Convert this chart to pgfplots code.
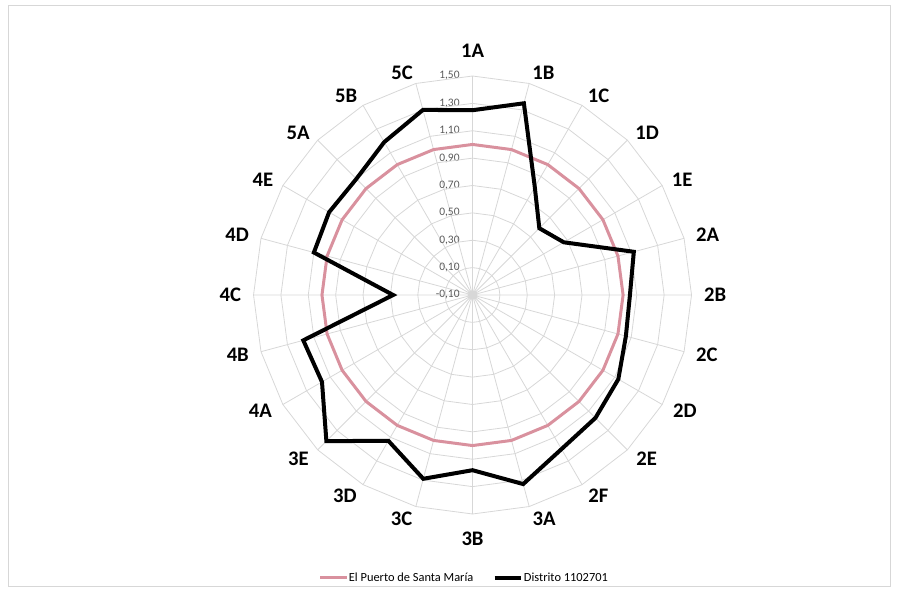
\documentclass[border=0pt]{standalone}
\usepackage{pgfplots}
\pgfplotsset{compat=1.18}
\usepackage{pgfplotstable}
\usepgfplotslibrary{polar}
\usepackage{fontspec}
\setmainfont{Carlito}

\definecolor{puerto}{RGB}{217,145,158}
\definecolor{gridc}{RGB}{215,215,215}
\definecolor{labc}{RGB}{89,89,89}
\tikzset{cat/.style={font=\bfseries\fontsize{15.5}{15.5}\selectfont, inner sep=0pt}}

% angle = 450 - 15k: 1A on top, categories run clockwise
\pgfplotstableread{
cat ang puerto distrito
1A 450 1.00 1.25
1B 435 1.00 1.35
1C 420 1.00 0.81
1D 405 1.00 0.59
1E 390 1.00 0.67
2A 375 1.00 1.12
2B 360 1.00 1.05
2C 345 1.00 1.06
2D 330 1.00 1.13
2E 315 1.00 1.17
2F 300 1.00 1.20
3A 285 1.00 1.33
3B 270 1.00 1.18
3C 255 1.00 1.29
3D 240 1.00 1.13
3E 225 1.00 1.41
4A 210 1.00 1.17
4B 195 1.00 1.18
4C 180 1.00 0.48
4D 165 1.00 1.10
4E 150 1.00 1.11
5A 135 1.00 1.10
5B 120 1.00 1.19
5C 105 1.00 1.30
1A 90 1.00 1.25
}\datatab

\begin{document}
\begin{tikzpicture}
\useasboundingbox (0pt,0pt) rectangle (678pt,444.75pt);
\draw[gridc, line width=0.6pt] (6pt,5.25pt) rectangle (667.5pt,441pt);
\begin{polaraxis}[
    at={(354.4pt,223.5pt)}, anchor=center,
    scale only axis,
    width=328.5pt, height=328.5pt,
    clip=false,
    xmin=90, xmax=450,
    ymin=0, ymax=1.6,
    xtick={90,105,...,435},
    xticklabels={},
    ytick={0,0.2,0.4,0.6,0.8,1.0,1.2,1.4,1.6},
    yticklabels={{-0,10},{0,10},{0,30},{0,50},{0,70},{0,90},{1,10},{1,30},{1,50}},
    axis line style={draw=none},
    major tick length=0pt,
    xmajorgrids, ymajorgrids=false,
    grid style={gridc, line width=0.6pt},
    yticklabel style={font=\fontsize{8.6}{8.6}\selectfont, text=labc, anchor=east, inner sep=1pt, xshift=-8.5pt},
    legend columns=2,
    legend style={at={(0.4795,-0.146)}, anchor=center, draw=none, fill=none,
      font=\fontsize{9.3}{9.3}\selectfont,
      nodes={inner xsep=0.5pt},
      /tikz/every even column/.append style={column sep=14pt}},
    legend image code/.code={\draw[#1] (0pt,0pt) -- (20pt,0pt);},
  ]
  % web rings at every tick radius
  \pgfplotsinvokeforeach{0.2,0.4,0.6,0.8,1.0,1.2,1.4,1.6}{
    \addplot[gridc, line width=0.6pt, forget plot] table[x=ang, y expr=#1] {\datatab};
  }
  \addplot[puerto, line width=2.25pt] table[x=ang, y expr=\thisrow{puerto}+0.1] {\datatab};
  \addplot[black, line width=3pt] table[x=ang, y expr=\thisrow{distrito}+0.1] {\datatab};
  \legend{El Puerto de Santa María, Distrito 1102701}

  % category labels, placed beside the web as Excel does
  \node[cat, anchor=south] at (axis cs:90,1.73) {1A};
  \node[cat, anchor=west] at (axis cs:75,1.68) {1B};
  \node[cat, anchor=west] at (axis cs:60,1.68) {1C};
  \node[cat, anchor=west] at (axis cs:45,1.68) {1D};
  \node[cat, anchor=west] at (axis cs:30,1.68) {1E};
  \node[cat, anchor=west] at (axis cs:15,1.69) {2A};
  \node[cat, anchor=west] at (axis cs:0,1.69) {2B};
  \node[cat, anchor=west] at (axis cs:-15,1.69) {2C};
  \node[cat, anchor=west] at (axis cs:-30,1.69) {2D};
  \node[cat, anchor=west] at (axis cs:-45,1.69) {2E};
  \node[cat, anchor=west] at (axis cs:-60,1.69) {2F};
  \node[cat, anchor=west] at (axis cs:-75,1.69) {3A};
  \node[cat, anchor=north] at (axis cs:270,1.73) {3B};
  \node[cat, anchor=east] at (axis cs:255,1.69) {3C};
  \node[cat, anchor=east] at (axis cs:240,1.69) {3D};
  \node[cat, anchor=east] at (axis cs:225,1.69) {3E};
  \node[cat, anchor=east] at (axis cs:210,1.69) {4A};
  \node[cat, anchor=east] at (axis cs:195,1.69) {4B};
  \node[cat, anchor=east] at (axis cs:180,1.69) {4C};
  \node[cat, anchor=east] at (axis cs:165,1.69) {4D};
  \node[cat, anchor=east] at (axis cs:150,1.68) {4E};
  \node[cat, anchor=east] at (axis cs:135,1.68) {5A};
  \node[cat, anchor=east] at (axis cs:120,1.68) {5B};
  \node[cat, anchor=east] at (axis cs:105,1.68) {5C};
\end{polaraxis}
\end{tikzpicture}
\end{document}
